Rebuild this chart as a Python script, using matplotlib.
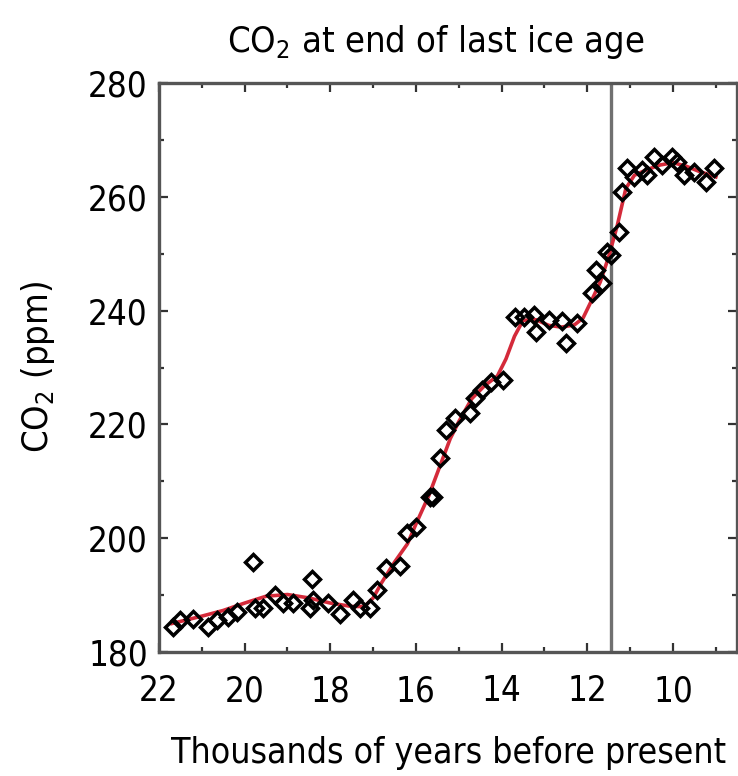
import matplotlib
matplotlib.use("Agg")
import matplotlib.pyplot as plt
from matplotlib.ticker import MultipleLocator

# measured CO2 (ka BP, ppm)
age_pts = [21.67, 21.51, 21.21, 20.86, 20.65, 20.39, 20.18, 19.81, 19.76, 19.58,
           19.30, 19.11, 18.88, 18.48, 18.43, 18.41, 18.06, 17.78, 17.48, 17.31,
           17.08, 16.90, 16.69, 16.38, 16.22, 15.99, 15.68, 15.61, 15.45, 15.29,
           15.10, 14.75, 14.63, 14.45, 14.24, 13.98, 13.70, 13.47, 13.24, 13.19,
           12.89, 12.58, 12.49, 12.23, 11.88, 11.79, 11.65, 11.53, 11.44, 11.25,
           11.18, 11.07, 10.90, 10.72, 10.60, 10.44, 10.25, 10.02, 9.90, 9.74,
           9.51, 9.23, 9.04]
co2_pts = [184.4, 185.6, 185.8, 184.4, 185.6, 186.2, 187.0, 195.8, 187.7, 187.7,
           190.0, 188.6, 188.6, 187.7, 192.8, 189.1, 188.6, 186.7, 189.1, 187.7,
           187.7, 190.9, 194.8, 195.1, 200.9, 202.0, 207.2, 207.2, 214.1, 219.0,
           221.1, 222.0, 224.6, 226.0, 227.5, 227.8, 238.9, 238.9, 239.2, 236.2,
           238.3, 238.2, 234.3, 237.8, 243.1, 247.1, 244.9, 250.3, 249.8, 253.8,
           260.8, 265.1, 263.5, 264.7, 263.8, 267.0, 265.6, 267.0, 266.1, 263.8,
           264.4, 262.6, 265.1]

# smoothed curve
age_fit = [21.7, 21.0, 20.5, 20.0, 19.5, 19.0, 18.5, 18.0, 17.5, 17.2, 17.0,
           16.8, 16.5, 16.2, 16.0, 15.7, 15.4, 15.2, 15.0, 14.7, 14.4, 14.1,
           13.9, 13.7, 13.5, 13.2, 12.9, 12.6, 12.3, 12.1, 11.9, 11.7, 11.5,
           11.3, 11.1, 10.9, 10.6, 10.3, 10.0, 9.7, 9.4, 9.0]
co2_fit = [185.0, 186.3, 187.3, 188.6, 189.8, 190.1, 189.5, 188.6, 188.0, 188.0,
           189.5, 192.2, 195.8, 199.0, 202.5, 207.5, 213.5, 217.5, 220.5, 224.5,
           226.8, 228.5, 231.5, 235.5, 238.3, 238.4, 237.4, 237.1, 237.5, 238.7,
           241.8, 245.0, 249.5, 255.0, 261.5, 263.8, 264.8, 265.6, 266.0, 265.4,
           264.5, 263.5]

holocene_start = 11.45

plt.rcParams['font.family'] = ['DejaVu Sans']
plt.rcParams['font.stretch'] = 'condensed'
plt.rcParams['mathtext.fontset'] = 'custom'
plt.rcParams['mathtext.rm'] = 'DejaVu Sans:stretch=condensed'

fig = plt.figure(figsize=(7.38, 7.76), dpi=100)
ax = fig.add_axes([0.2154, 0.1598, 0.7836, 0.7332])

ax.axvline(holocene_start, color='#707070', lw=2.4, zorder=1)
ax.plot(age_fit, co2_fit, color='#d42a3a', lw=2.6, zorder=2)
ax.plot(age_pts, co2_pts, ls='none', marker='D', ms=8, mfc='none',
        mec='black', mew=2.5, zorder=3)

ax.set_xlim(22, 8.5)
ax.set_ylim(180, 280)
ax.xaxis.set_major_locator(MultipleLocator(2))
ax.xaxis.set_minor_locator(MultipleLocator(1))
ax.yaxis.set_major_locator(MultipleLocator(20))
ax.yaxis.set_minor_locator(MultipleLocator(10))
ax.tick_params(which='both', direction='in', top=True, right=True,
               color='#333333', width=1.6)
ax.tick_params(which='major', length=6.5, labelsize=25)
ax.tick_params(axis='x', which='major', pad=16)
ax.tick_params(axis='y', which='major', pad=8)
ax.tick_params(which='minor', length=3.5)
for sp in ax.spines.values():
    sp.set_color('#555555')
    sp.set_linewidth(2.4)

ax.set_xlabel('Thousands of years before present', fontsize=25.5, labelpad=20)
ax.set_ylabel('CO$_2$ (ppm)', fontsize=26, labelpad=22)
fig.text(0.59, 0.946, 'CO$_2$ at end of last ice age', fontsize=26,
         ha='center', va='center')

fig.savefig('out.png', dpi=100)
